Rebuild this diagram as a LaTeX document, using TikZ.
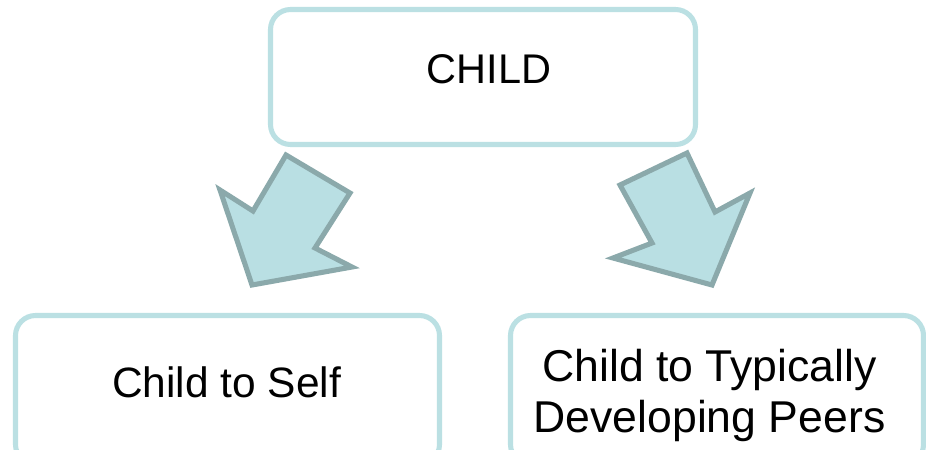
\documentclass[tikz,border=0pt]{standalone}
\usepackage{fontspec}
\setmainfont{Liberation Sans}
\definecolor{mboxline}{HTML}{BBE0E3}
\definecolor{marrowfill}{HTML}{B9DFE3}
\definecolor{marrowline}{HTML}{8BA9AB}
\begin{document}
\begin{tikzpicture}[x=0.025cm,y=-0.025cm,every node/.style={inner sep=0pt,align=center,font=\fontsize{29.5}{35.5}\selectfont},mbox/.style={draw=mboxline,fill=white,line width=3.6pt,rounded corners=0.5cm},marrow/.style={draw=marrowline,fill=marrowfill,line width=3.6pt,line join=miter}]
                \def\mpx{0.025cm} %1 pixel
                \useasboundingbox (0,0) rectangle (926,449);
                \clip (0,0) rectangle (926,449);
                \foreach \mname/\x/\y/\w/\h in {top/483/77/425/135,self/227.5/390/424/149,peers/717/390/413/149}{
                    \node[mbox,minimum width=\w*\mpx,minimum height=\h*\mpx] (\mname) at (\x,\y) {};
                }
                \path node[anchor=base] (childtxt) at (489,83) {CHILD} node[anchor=base,font=\fontsize{30.2}{35.5}\selectfont] (selftxt) at (226.5,397) {Child to Self} node[anchor=base,font=\fontsize{31.7}{35.6}\selectfont] (peerstxt) at (709.5,432) {Child to Typically\\Developing Peers};
                \draw[marrow] (286,155)--(350,193)--(315,248)--(352,267)--(252,285)--(220,190)--(253,211)--cycle;
                \draw[marrow] (620,185)--(687,153)--(715,212)--(750,193)--(712,285)--(613,258)--(652,243)--cycle;
            \end{tikzpicture}
\end{document}
